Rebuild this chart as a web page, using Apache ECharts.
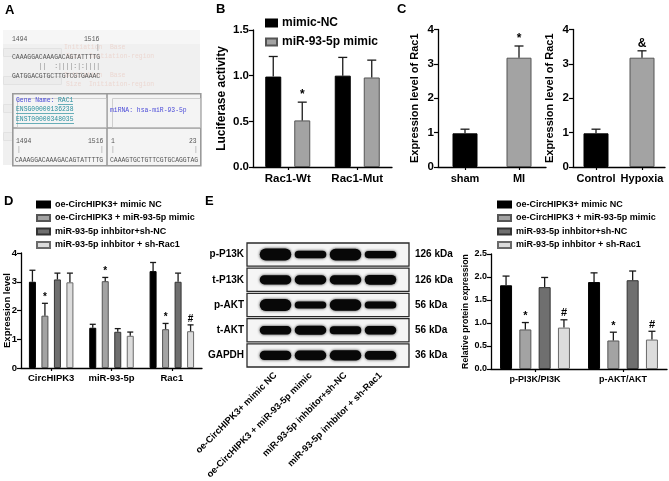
<!DOCTYPE html>
<html><head><meta charset="utf-8">
<script src="https://cdn.jsdelivr.net/npm/echarts@6/dist/echarts.min.js"></script>
<style>html,body{margin:0;padding:0;background:#fff}#c{width:669px;height:481px}</style>
</head><body><div id="c"></div>
<script>
// ---------- Panel A (sequence screenshot text) ----------
const aPosTop = ['1494', '1516'];
const aSeqTarget = 'CAAAGGACAAAGACAGTATTTTG';
const aSeqPairing = '       ||  :||||:|:||||';
const aSeqMiRNA = 'GATGGACGTGCTTGTCGTGAAAC';
const aGeneLines = ['ENSG00000136238', 'ENST00000348035'];
const aMiRNALabel = 'miRNA: hsa-miR-93-5p';
const aMiRNASeq = 'CAAAGTGCTGTTCGTGCAGGTAG';
const aMiRNAPos = ['1', '23'];

// ---------- Panel B ----------
const bCategories = ['Rac1-Wt', 'Rac1-Mut'];
const bSeriesNames = ['mimic-NC', 'miR-93-5p mimic'];
const bMimicNC = [0.99, 1.00];
const bMimicNCErr = [1.21, 1.20];
const bMimic = [0.51, 0.98];
const bMimicErr = [0.71, 1.17];
const bMimicNCMarks = ['', ''];
const bMimicMarks = ['*', ''];

// ---------- Panel C ----------
const c1Categories = ['sham', 'MI'];
const c1Values = [0.98, 3.18];
const c1Err = [1.10, 3.52];
const c1Marks = ['', '*'];
const c2Categories = ['Control', 'Hypoxia'];
const c2Values = [0.98, 3.18];
const c2Err = [1.10, 3.38];
const c2Marks = ['', '&'];

// ---------- Panel D ----------
const groupNames = ['oe-CircHIPK3+ mimic NC', 'oe-CircHIPK3 + miR-93-5p mimic', 'miR-93-5p inhbitor+sh-NC', 'miR-93-5p inhbitor + sh-Rac1'];
const dCategories = ['CircHIPK3', 'miR-93-5p', 'Rac1'];
const dValues = [[3.00, 1.40, 3.37], [1.82, 3.02, 1.35], [3.08, 1.26, 3.00], [2.98, 1.12, 1.28]];
const dErr = [[3.40, 1.52, 3.67], [2.25, 3.15, 1.55], [3.30, 1.37, 3.30], [3.30, 1.25, 1.50]];
const dMarks = [['', '', ''], ['*', '*', '*'], ['', '', ''], ['', '', '#']];

// ---------- Panel E (blot) ----------
const blotProteins = ['p-P13K', 't-P13K', 'p-AKT', 't-AKT', 'GAPDH'];
const blotKDa = ['126 kDa', '126 kDa', '56 kDa', '56 kDa', '36 kDa'];
const blotIntensity = [[1.0, 0.5, 0.95, 0.45], [0.7, 0.7, 0.7, 0.75], [1.0, 0.45, 0.95, 0.45], [0.6, 0.65, 0.55, 0.6], [0.7, 0.75, 0.8, 0.65]];

// ---------- Panel E (quantification) ----------
const eCategories = ['p-PI3K/PI3K', 'p-AKT/AKT'];
const eValues = [[1.82, 1.89], [0.86, 0.62], [1.78, 1.93], [0.90, 0.64]];
const eErr = [[2.02, 2.09], [1.01, 0.80], [1.99, 2.13], [1.07, 0.82]];
const eMarks = [['', ''], ['*', '*'], ['', ''], ['#', '#']];

const groupColors = ['#000000', '#a3a3a3', '#6f6f6f', '#dcdcdc'];
const groupBorders = ['#000000', '#555555', '#333333', '#6a6a6a'];
const FF = '"Liberation Sans", Arial, sans-serif';
const MONO = '"Liberation Mono", "DejaVu Sans Mono", monospace';

const chart = echarts.init(document.getElementById('c'), null, {renderer: 'canvas'});

function errSeries(xi, yi, vals, tops, marks, nBars, barIdx, barW, gapPx, capW, markSize) {
  const offset = -((nBars * barW + (nBars - 1) * gapPx) / 2) + barIdx * (barW + gapPx) + barW / 2;
  return {
    type: 'custom', xAxisIndex: xi, yAxisIndex: yi, silent: true, z: 4,
    data: vals.map((v, i) => [i, v, tops[i]]),
    renderItem: (params, api) => {
      const i = api.value(0);
      const p0 = api.coord([i, api.value(1)]);
      const p1 = api.coord([i, api.value(2)]);
      const x = p0[0] + offset;
      const mark = marks[params.dataIndex];
      const ch = [
        {type: 'line', shape: {x1: x, y1: p0[1], x2: x, y2: p1[1]}, style: {stroke: '#1a1a1a', lineWidth: 1.3}},
        {type: 'line', shape: {x1: x - capW / 2, y1: p1[1], x2: x + capW / 2, y2: p1[1]}, style: {stroke: '#1a1a1a', lineWidth: 1.3}}
      ];
      if (mark) ch.push({type: 'text', style: {text: mark, x: x, y: p1[1] - 1, align: 'center', verticalAlign: 'bottom', font: 'bold ' + markSize + 'px ' + FF, fill: '#000'}});
      return {type: 'group', children: ch};
    }
  };
}

const axisLineStyle = {show: true, lineStyle: {color: '#000', width: 1.3}};
function catX(grid, data, fs, margin) {
  return {type: 'category', gridIndex: grid, data: data, axisLine: axisLineStyle,
    axisTick: {show: true, alignWithLabel: true, length: 3, lineStyle: {color: '#000', width: 1.2}},
    axisLabel: {color: '#000', fontWeight: 'bold', fontSize: fs, fontFamily: FF, margin: margin, interval: 0}};
}
function valY(grid, max, interval, name, nfs, gap, lfs, dec) {
  return {type: 'value', gridIndex: grid, min: 0, max: max, interval: interval,
    name: name, nameLocation: 'middle', nameGap: gap, nameMoveOverlap: false,
    nameTextStyle: {color: '#000', fontWeight: 'bold', fontSize: nfs, fontFamily: FF},
    axisLine: axisLineStyle, axisTick: {show: true, length: 4, lineStyle: {color: '#000', width: 1.2}},
    splitLine: {show: false},
    axisLabel: {color: '#000', fontWeight: 'bold', fontSize: lfs, fontFamily: FF, margin: 4,
      formatter: v => v.toFixed(dec)}};
}

const grids = [
  {left: 253, top: 30, width: 139, height: 137},   // B
  {left: 438, top: 29.5, width: 108, height: 137.5}, // C1
  {left: 573, top: 29.5, width: 92, height: 137.5}, // C2
  {left: 21, top: 253, width: 181, height: 115},   // D
  {left: 258, top: 242, width: 140, height: 126},  // E blot
  {left: 491, top: 254, width: 176, height: 115}   // E quant
].map(g => Object.assign({outerBoundsMode: 'none', containLabel: false}, g));

const xAxes = [
  catX(0, bCategories, 11.5, 6),
  catX(1, c1Categories, 11, 6),
  catX(2, c2Categories, 11, 6),
  catX(3, dCategories, 9.5, 5),
  {type: 'category', gridIndex: 4, data: groupNames, axisLine: {show: false}, axisTick: {show: false},
    axisLabel: {color: '#000', fontWeight: 'bold', fontSize: 9.3, fontFamily: FF, rotate: 45, margin: 6, interval: 0}},
  catX(5, eCategories, 9, 6)
];
const yAxes = [
  valY(0, 1.5, 0.5, 'Luciferase activity', 12, 25, 11.5, 1),
  valY(1, 4, 1, 'Expression level of Rac1', 11, 17.5, 11.5, 0),
  valY(2, 4, 1, 'Expression level of Rac1', 11, 17.5, 11.5, 0),
  valY(3, 4, 1, 'Expression level', 9.5, 9, 9.5, 0),
  {type: 'category', gridIndex: 4, data: blotProteins, inverse: true, axisLine: {show: false}, axisTick: {show: false},
    axisLabel: {color: '#000', fontWeight: 'bold', fontSize: 10, fontFamily: FF, margin: 14}},
  {type: 'category', gridIndex: 4, data: blotKDa, inverse: true, position: 'right', axisLine: {show: false}, axisTick: {show: false},
    axisLabel: {color: '#000', fontWeight: 'bold', fontSize: 10, fontFamily: FF, margin: 17}},
  valY(5, 2.5, 0.5, 'Relative protein expression', 8.8, 20.5, 9, 1)
];
yAxes[6].gridIndex = 5;

const series = [];
// B bars
const bW = 16, bGap = 13;
[[bMimicNC, bMimicNCErr, bMimicNCMarks], [bMimic, bMimicErr, bMimicMarks]].forEach((s, k) => {
  series.push({type: 'bar', name: bSeriesNames[k], xAxisIndex: 0, yAxisIndex: 0, data: s[0], barWidth: bW, barGap: (bGap / bW * 100) + '%',
    itemStyle: {color: groupColors[k], borderColor: groupBorders[k], borderWidth: 1}});
  series.push(errSeries(0, 0, s[0], s[1], s[2], 2, k, bW, bGap, 9, 12));
});
// C bars
[[c1Values, c1Err, c1Marks, 1], [c2Values, c2Err, c2Marks, 2]].forEach(s => {
  series.push({type: 'bar', xAxisIndex: s[3], yAxisIndex: s[3], barWidth: 25,
    data: s[0].map((v, i) => ({value: v, itemStyle: {color: groupColors[i], borderColor: groupBorders[i], borderWidth: 1}}))});
  series.push(errSeries(s[3], s[3], s[0], s[1], s[2], 1, 0, 25, 0, 9, 12));
});
// D bars
const dW = 7, dGap = 5.5;
dValues.forEach((vals, k) => {
  series.push({type: 'bar', name: groupNames[k], xAxisIndex: 3, yAxisIndex: 3, data: vals, barWidth: dW, barGap: (dGap / dW * 100) + '%',
    itemStyle: {color: groupColors[k], borderColor: groupBorders[k], borderWidth: 1}});
  series.push(errSeries(3, 3, vals, dErr[k], dMarks[k], 4, k, dW, dGap, 6, 10));
});
// E quant bars
const eW = 12, eGap = 7.3;
eValues.forEach((vals, k) => {
  series.push({type: 'bar', name: groupNames[k], xAxisIndex: 5, yAxisIndex: 6, data: vals, barWidth: eW, barGap: (eGap / eW * 100) + '%',
    itemStyle: {color: groupColors[k], borderColor: groupBorders[k], borderWidth: 1}});
  series.push(errSeries(5, 6, vals, eErr[k], eMarks[k], 4, k, eW, eGap, 7, 11));
});
// Blot frames
series.push({type: 'custom', xAxisIndex: 4, yAxisIndex: 4, silent: true, z: 1,
  data: blotProteins.map((p, r) => [0, r]),
  renderItem: (params, api) => {
    const cs = params.coordSys;
    const yc = api.coord([0, api.value(1)])[1];
    const h = api.size([0, 1])[1];
    return {type: 'rect', shape: {x: cs.x - 11, y: yc - h / 2 + 1, width: cs.width + 22, height: h - 2},
      style: {fill: '#f5f5f5', stroke: '#2a2a2a', lineWidth: 1.3}};
  }});
// Blot bands
const bandData = [];
blotIntensity.forEach((row, r) => row.forEach((v, c) => bandData.push([c, r, v])));
series.push({type: 'custom', xAxisIndex: 4, yAxisIndex: 4, silent: true, z: 2,
  data: bandData,
  renderItem: (params, api) => {
    const p = api.coord([api.value(0), api.value(1)]);
    const laneW = api.size([1, 0])[0];
    const t = api.value(2);
    const w = laneW * 0.9, h = 3 + t * 9;
    return {type: 'rect', shape: {x: p[0] - w / 2, y: p[1] - h / 2, width: w, height: h, r: h / 2},
      style: {fill: '#080808', shadowBlur: 3, shadowColor: 'rgba(0,0,0,0.8)'}};
  }});

const legendText = (fs) => ({color: '#000', fontWeight: 'bold', fontSize: fs, fontFamily: FF});
const legends = [
  {data: bSeriesNames, orient: 'vertical', left: 265, top: 17, itemWidth: 11, itemHeight: 7, itemGap: 7, icon: 'rect', textStyle: legendText(12), selectedMode: false, padding: 0},
  {data: groupNames, orient: 'vertical', left: 36, top: 200, itemWidth: 13, itemHeight: 6, itemGap: 4.5, icon: 'rect', textStyle: legendText(9), selectedMode: false, padding: 0},
  {data: groupNames, orient: 'vertical', left: 497, top: 200, itemWidth: 13, itemHeight: 6, itemGap: 4.5, icon: 'rect', textStyle: legendText(9), selectedMode: false, padding: 0}
];

// Panel A graphics
function monoText(x, y, text, fill) {
  return {type: 'text', left: x, top: y, silent: true,
    style: {text: text, font: '6.4px ' + MONO, fill: fill || '#555'}};
}
const faint = '#ecd8d2';
const aGraphics = [
  {type: 'rect', left: 3, top: 30, shape: {width: 197, height: 135}, style: {fill: '#f0f0f0'}, silent: true},
  {type: 'rect', left: 3, top: 30, shape: {width: 197, height: 14}, style: {fill: '#f6f6f6'}, silent: true},
  {type: 'rect', left: 3, top: 48, shape: {width: 58, height: 8}, style: {fill: '#ececec', stroke: '#e2e2e2'}, silent: true},
  {type: 'rect', left: 3, top: 76, shape: {width: 58, height: 8}, style: {fill: '#ececec', stroke: '#e2e2e2'}, silent: true},
  {type: 'rect', left: 3, top: 104, shape: {width: 58, height: 8}, style: {fill: '#ececec', stroke: '#e2e2e2'}, silent: true},
  {type: 'rect', left: 3, top: 132, shape: {width: 62, height: 8}, style: {fill: '#ececec', stroke: '#e2e2e2'}, silent: true},
  monoText(64, 44, 'Initiation  Base', faint), monoText(66, 53, 'Size  Initiation-region', faint),
  monoText(64, 72, 'Initiation  Base', faint), monoText(66, 81, 'Size  Initiation-region', faint),
  monoText(12, 36, aPosTop[0]), monoText(84, 36, aPosTop[1]), monoText(96, 44, '|', '#888'),
  monoText(12, 54, aSeqTarget), monoText(12, 63, aSeqPairing, '#888'), monoText(12, 73, aSeqMiRNA),
  {type: 'rect', left: 12, top: 93, shape: {width: 188, height: 72}, style: {fill: '#f4f4f4', stroke: '#9a9a9a', lineWidth: 1.6}, silent: true},
  {type: 'line', shape: {x1: 107, y1: 93, x2: 107, y2: 165}, style: {stroke: '#9a9a9a', lineWidth: 1.6}, silent: true},
  {type: 'line', shape: {x1: 12, y1: 128, x2: 200, y2: 128}, style: {stroke: '#9a9a9a', lineWidth: 1.6}, silent: true},
  {type: 'rect', left: 15, top: 96, shape: {width: 89, height: 29}, style: {fill: 'none', stroke: '#c4c4c4', lineWidth: 0.8}, silent: true},
  {type: 'rect', left: 110, top: 96, shape: {width: 88, height: 29}, style: {fill: 'none', stroke: '#c4c4c4', lineWidth: 0.8}, silent: true},
  monoText(16, 97, 'Gene Name: ', '#4b4bd8'), monoText(58, 97, 'RAC1', '#2a8f9e'),
  {type: 'line', shape: {x1: 58, y1: 104.5, x2: 73, y2: 104.5}, style: {stroke: '#2a8f9e', lineWidth: 0.7}, silent: true},
  monoText(16, 106, aGeneLines[0], '#2a8f9e'),
  {type: 'line', shape: {x1: 16, y1: 113.5, x2: 74, y2: 113.5}, style: {stroke: '#2a8f9e', lineWidth: 0.7}, silent: true},
  monoText(16, 116, aGeneLines[1], '#2a8f9e'),
  {type: 'line', shape: {x1: 16, y1: 123.5, x2: 74, y2: 123.5}, style: {stroke: '#2a8f9e', lineWidth: 0.7}, silent: true},
  monoText(110, 107, aMiRNALabel, '#4b4bd8'),
  monoText(16, 138, aPosTop[0]), monoText(88, 138, aPosTop[1]),
  monoText(17, 146, '|', '#999'), monoText(100, 146, '|', '#999'),
  monoText(15, 157, aSeqTarget),
  monoText(111, 138, aMiRNAPos[0]), monoText(189, 138, aMiRNAPos[1]),
  monoText(111, 146, '|', '#999'), monoText(194, 146, '|', '#999'),
  monoText(110, 157, aMiRNASeq)
];
const letter = (t, x, y) => ({type: 'text', left: x, top: y, silent: true, style: {text: t, font: 'bold 13px ' + FF, fill: '#000'}});

chart.setOption({
  animation: false,
  backgroundColor: '#ffffff',
  grid: grids,
  xAxis: xAxes,
  yAxis: yAxes,
  legend: legends,
  series: series,
  graphic: aGraphics.concat([letter('A', 5, 4), letter('B', 216, 3), letter('C', 397, 3), letter('D', 4, 195), letter('E', 205, 195)])
});
</script>
</body></html>
